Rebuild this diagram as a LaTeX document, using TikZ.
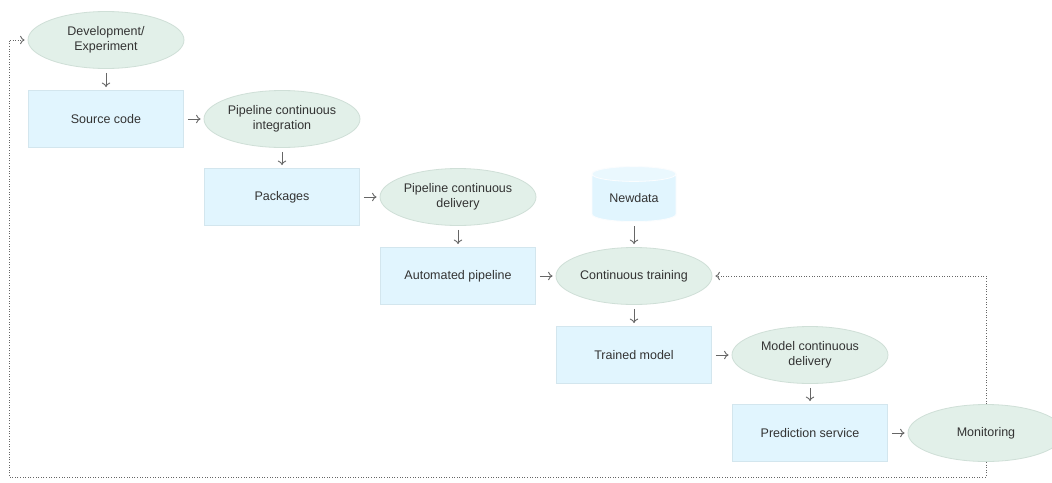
\documentclass[tikz,border=0pt]{standalone}
\usepackage{fontspec}
\setmainfont{Liberation Sans}
\usetikzlibrary{shapes.geometric,arrows.meta,calc}

\definecolor{boxfill}{HTML}{E1F5FE}
\definecolor{boxline}{HTML}{D3E6EE}
\definecolor{ovalfill}{HTML}{E2F0E9}
\definecolor{ovalline}{HTML}{CFDFD7}
\definecolor{arrowgray}{HTML}{666666}
\definecolor{textgray}{HTML}{333333}
\definecolor{capfill}{HTML}{EAF8FE}

\tikzset{
  base/.style={font=\fontsize{12.5}{14.5}\selectfont, text=textgray, align=center, inner sep=0pt, line width=0.8pt},
  stagebox/.style={base, rectangle, fill=boxfill, draw=boxline, minimum width=155pt, minimum height=57pt},
  process/.style={base, ellipse, fill=ovalfill, draw=ovalline, minimum width=156pt, minimum height=57pt},
  store/.style={base, cylinder, shape border rotate=90, aspect=0.3, minimum width=84pt, minimum height=55pt,
    cylinder uses custom fill, cylinder body fill=boxfill, cylinder end fill=capfill, draw=white!92!boxline},
  flow/.style={draw=arrowgray, line width=0.9pt, -{To[length=4.5pt,width=8.5pt]}, shorten >=3pt, shorten <=4pt},
  feedback/.style={draw=arrowgray, line width=0.9pt, dash pattern=on 1pt off 1.6pt, -{To[length=4.5pt,width=8.5pt]}, shorten >=3pt}
}

\begin{document}
\begin{tikzpicture}[x=1pt,y=-1pt]
  \useasboundingbox[fill=white] (0,0) rectangle (1052,482);

  % stages of the pipeline, top left to bottom right
  \node[process]  (dev)   at (106,40)  {Development/\\Experiment};
  \node[stagebox] (src)   at (106,119) {Source code};
  \node[process]  (pci)   at (282,119) {Pipeline continuous\\integration};
  \node[stagebox] (pkg)   at (282,197) {Packages};
  \node[process]  (pcd)   at (458,197) {Pipeline continuous\\delivery};
  \node[stagebox] (auto)  at (458,276) {Automated pipeline};
  \node[store]    (data)  at (634,198) {Newdata};
  \node[process]  (train) at (634,276) {Continuous training};
  \node[stagebox] (model) at (634,355) {Trained model};
  \node[process]  (mcd)   at (810,355) {Model continuous\\delivery};
  \node[stagebox] (pred)  at (810,433) {Prediction service};
  \node[process]  (mon)   at (986,433) {Monitoring};

  % forward flow
  \draw[flow] (dev) -- (src);
  \draw[flow] (src) -- (pci);
  \draw[flow] (pci) -- (pkg);
  \draw[flow] (pkg) -- (pcd);
  \draw[flow] (pcd) -- (auto);
  \draw[flow] (auto) -- (train);
  \draw[flow] (data) -- (train);
  \draw[flow] (train) -- (model);
  \draw[flow] (model) -- (mcd);
  \draw[flow] (mcd) -- (pred);
  \draw[flow] (pred) -- (mon);

  % feedback loops from monitoring
  \coordinate (upturn) at (986,276);
  \coordinate (lowright) at (986,477);
  \coordinate (lowleft) at (9,477);
  \coordinate (upleft) at (9,40);
  \draw[feedback] (mon.north) -- (upturn) -- (train.east);
  \draw[feedback] (mon.south) -- (lowright) -- (lowleft) -- (upleft) -- (dev.west);
\end{tikzpicture}
\end{document}
